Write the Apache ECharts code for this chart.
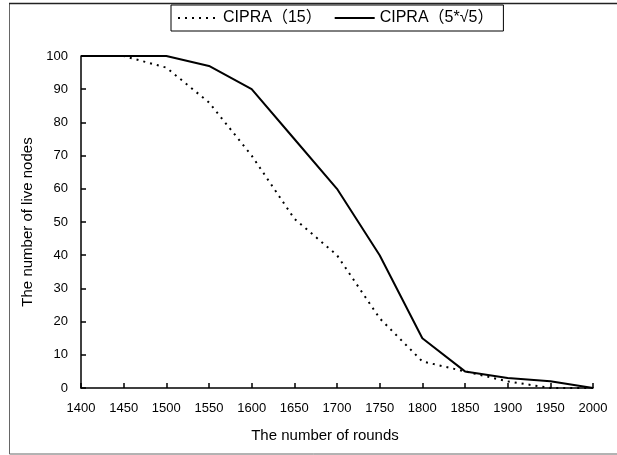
<!DOCTYPE html>
<html>
<head>
<meta charset="utf-8">
<script src="https://cdn.jsdelivr.net/npm/echarts@6/dist/echarts.min.js"></script>
<style>
  html, body { margin: 0; padding: 0; background: #fff; }
  #main { width: 617px; height: 455px; }
</style>
</head>
<body>
<div id="main"></div>
<script>
const rounds = [1400, 1450, 1500, 1550, 1600, 1650, 1700, 1750, 1800, 1850, 1900, 1950, 2000];
const cipra15 = [100, 100, 96.5, 86, 70, 51, 40, 21, 8, 5, 2, 0, 0];
const cipra5r5 = [100, 100, 100, 97, 90, 75, 60, 40, 15, 5, 3, 2, 0];
const yTicks = { min: 0, max: 100, step: 10 };

const FONT = '"Liberation Sans", "Noto Sans CJK JP", sans-serif';

const chart = echarts.init(document.getElementById('main'));

const pairs = vals => rounds.map((r, i) => [r, vals[i]]);

chart.setOption({
  backgroundColor: '#fff',
  animation: false,
  textStyle: { fontFamily: FONT, color: '#000' },
  graphic: [
    { type: 'rect', shape: { x: 9.5, y: 3.5, width: 640, height: 450.5 },
      style: { fill: 'none', stroke: '#666', lineWidth: 1 } },
    { type: 'line', shape: { x1: 9, y1: 3.5, x2: 617, y2: 3.5 },
      style: { stroke: '#222', lineWidth: 1.5 } }
  ],
  legend: {
    left: 171,
    top: 5,
    padding: [5, 10, 5, 6],
    itemGap: 12,
    itemWidth: 40,
    itemHeight: 12,
    borderColor: '#000',
    borderWidth: 1,
    backgroundColor: '#fff',
    itemStyle: { opacity: 0 },
    textStyle: { fontSize: 16, color: '#000', fontFamily: FONT }
  },
  grid: { left: 81, right: 24, top: 56, bottom: 67 },
  xAxis: {
    type: 'value',
    min: 1400,
    max: 2000,
    interval: 50,
    name: 'The number of rounds',
    nameLocation: 'middle',
    nameGap: 40,
    nameTextStyle: { fontSize: 15, color: '#000', padding: [0, 24, 0, 0] },
    axisLine: { lineStyle: { color: '#000', width: 1.5 } },
    axisTick: { inside: true, length: 5, lineStyle: { color: '#000', width: 1.5 } },
    axisLabel: { fontSize: 13, color: '#000', margin: 14, formatter: v => String(v) },
    splitLine: { show: false }
  },
  yAxis: {
    type: 'value',
    min: yTicks.min,
    max: yTicks.max,
    interval: yTicks.step,
    name: 'The number of live nodes',
    nameLocation: 'middle',
    nameGap: 33,
    nameTextStyle: { fontSize: 15, color: '#000' },
    axisLine: { show: true, lineStyle: { color: '#000', width: 1.5 } },
    axisTick: { show: true, inside: true, length: 5, lineStyle: { color: '#000', width: 1.5 } },
    axisLabel: { fontSize: 13, color: '#000', margin: 13 },
    splitLine: { show: false }
  },
  series: [
    {
      name: 'CIPRA（15）',
      type: 'line',
      data: pairs(cipra15),
      symbol: 'none',
      lineStyle: { color: '#000', width: 2, type: [2, 5] },
      itemStyle: { color: '#000' }
    },
    {
      name: 'CIPRA（5*√5）',
      type: 'line',
      data: pairs(cipra5r5),
      symbol: 'none',
      lineStyle: { color: '#000', width: 2 },
      itemStyle: { color: '#000' }
    }
  ]
});
</script>
</body>
</html>
